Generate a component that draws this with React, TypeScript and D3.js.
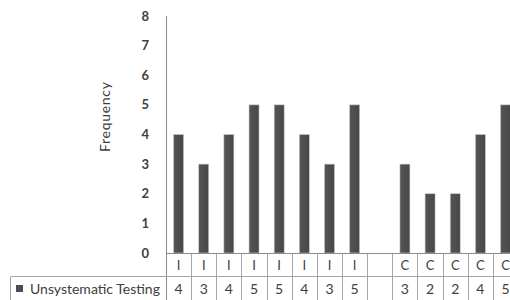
import React, { useEffect, useRef } from 'react';
import * as d3 from 'd3';

const categories = ['I', 'I', 'I', 'I', 'I', 'I', 'I', 'I', '', 'C', 'C', 'C', 'C', 'C'];
const values: (number | null)[] = [4, 3, 4, 5, 5, 4, 3, 5, null, 3, 2, 2, 4, 5];
const yTicks = [0, 1, 2, 3, 4, 5, 6, 7, 8];
const seriesName = 'Unsystematic Testing';

const App = () => {
  const ref = useRef<SVGSVGElement>(null);

  useEffect(() => {
    const svg = d3.select(ref.current);
    svg.selectAll('*').remove();
    const font = 'Lato, "Open Sans", sans-serif';
    const textColor = '#404040';
    const gridColor = '#a6a6a6';

    const x = d3
      .scaleBand<number>()
      .domain(categories.map((_, i) => i))
      .range([166, 166 + categories.length * 25.15])
      .padding(0);
    const y = d3.scaleLinear().domain([0, 8]).range([253, 16]);

    const defs = svg.append('defs');
    const grad = defs.append('linearGradient').attr('id', 'barGrad').attr('x1', 0).attr('x2', 1).attr('y1', 0).attr('y2', 0);
    grad.append('stop').attr('offset', '0%').attr('stop-color', '#555');
    grad.append('stop').attr('offset', '100%').attr('stop-color', '#474747');

    // y axis
    svg.append('line')
      .attr('x1', 166.5).attr('x2', 166.5)
      .attr('y1', y(8)).attr('y2', 300)
      .attr('stroke', '#8c8c8c');

    svg.append('g')
      .selectAll('text')
      .data(yTicks)
      .enter()
      .append('text')
      .attr('x', 149)
      .attr('y', (d) => y(d))
      .attr('dy', '0.35em')
      .attr('text-anchor', 'end')
      .attr('font-family', font)
      .attr('font-size', 13)
      .attr('font-weight', 'bold')
      .attr('fill', textColor)
      .text((d) => d);

    svg.append('text')
      .attr('transform', 'translate(110,117) rotate(-90)')
      .attr('text-anchor', 'middle')
      .attr('font-family', font)
      .attr('font-size', 14)
      .attr('textLength', 70)
      .attr('fill', textColor)
      .text('Frequency');

    // bars
    const barW = 10;
    svg.append('g')
      .selectAll('rect')
      .data(values.map((v, i) => ({ v, i })).filter((d) => d.v !== null))
      .enter()
      .append('rect')
      .attr('x', (d) => (x(d.i) as number) + x.bandwidth() / 2 - barW / 2)
      .attr('y', (d) => y(d.v as number))
      .attr('width', barW)
      .attr('height', (d) => y(0) - y(d.v as number))
      .attr('fill', 'url(#barGrad)')
      .attr('stroke', '#c8c8c8')
      .attr('stroke-width', 0.6);

    // x axis line
    svg.append('line')
      .attr('x1', 166).attr('x2', 510)
      .attr('y1', 253.5).attr('y2', 253.5)
      .attr('stroke', '#8c8c8c');

    // data table
    svg.append('line')
      .attr('x1', 10.5).attr('x2', 510)
      .attr('y1', 276.5).attr('y2', 276.5)
      .attr('stroke', gridColor);
    svg.append('line')
      .attr('x1', 10.5).attr('x2', 10.5)
      .attr('y1', 276.5).attr('y2', 300)
      .attr('stroke', gridColor);

    svg.append('g')
      .selectAll('line')
      .data(categories.map((_, i) => i).slice(1))
      .enter()
      .append('line')
      .attr('x1', (d) => Math.round(x(d) as number) + 0.5)
      .attr('x2', (d) => Math.round(x(d) as number) + 0.5)
      .attr('y1', 254)
      .attr('y2', 300)
      .attr('stroke', gridColor);

    svg.append('g')
      .selectAll('text')
      .data(categories)
      .enter()
      .append('text')
      .attr('x', (_, i) => (x(i) as number) + x.bandwidth() / 2)
      .attr('y', 265)
      .attr('dy', '0.35em')
      .attr('text-anchor', 'middle')
      .attr('font-family', font)
      .attr('font-size', 13)
      .attr('fill', textColor)
      .text((d) => d);

    svg.append('g')
      .selectAll('text')
      .data(values)
      .enter()
      .append('text')
      .attr('x', (_, i) => (x(i) as number) + x.bandwidth() / 2)
      .attr('y', 289)
      .attr('dy', '0.35em')
      .attr('text-anchor', 'middle')
      .attr('font-family', font)
      .attr('font-size', 14)
      .attr('fill', textColor)
      .text((d) => (d === null ? '' : d));

    svg.append('rect')
      .attr('x', 16).attr('y', 285)
      .attr('width', 7).attr('height', 7)
      .attr('fill', '#4d4d4d');

    svg.append('text')
      .attr('x', 30)
      .attr('y', 289)
      .attr('dy', '0.35em')
      .attr('font-family', font)
      .attr('font-size', 14)
      .attr('fill', textColor)
      .text(seriesName);
  }, []);

  return (
    <svg
      ref={ref}
      width={510}
      height={300}
      style={{ position: 'absolute', left: 0, top: 0, background: '#fff' }}
    ></svg>
  );
};

export default App;
